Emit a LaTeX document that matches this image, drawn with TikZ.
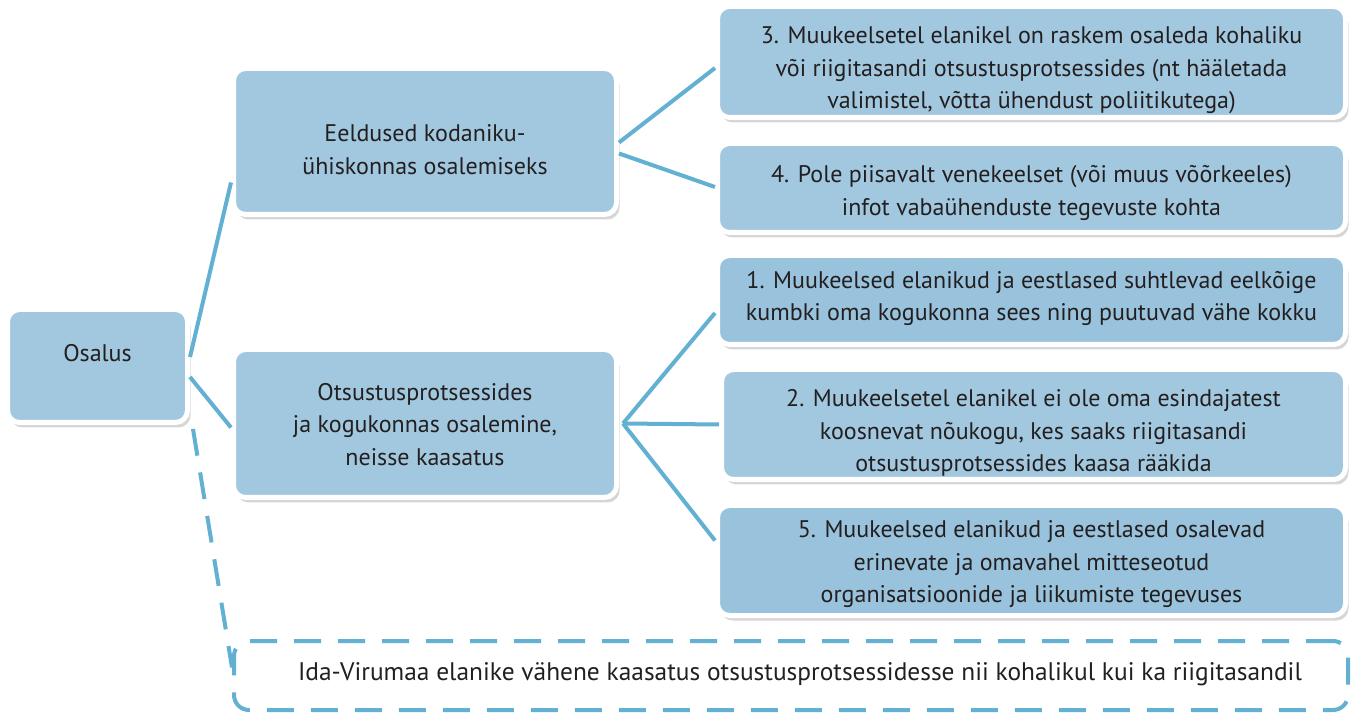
\documentclass[tikz,border=0pt]{standalone}
\usepackage{fontspec}
\setmainfont{PT Sans}
\usepackage{xcolor}
\usetikzlibrary{calc,shadows}
\definecolor{boxblue}{HTML}{A2C8DF}
\definecolor{boxdeep}{HTML}{99C3DC}
\definecolor{wire}{HTML}{62B0D2}
\definecolor{ink}{HTML}{231F20}
\newcommand\boxlines[2]{\raisebox{#1}[\height][\depth]{\begin{tabular}{@{}c@{}}#2\end{tabular}}}
\tikzset{card/.style={draw=white,line width=2.5pt,fill=boxblue,rounded corners=6pt,text=ink,inner sep=0pt,
  drop shadow={shadow xshift=1.5pt,shadow yshift=-2.5pt,opacity=0.16,fill=black}},
  link/.style={wire,line width=2pt},
  dashlink/.style={draw=wire,line width=2pt,dash pattern=on 13.5pt off 8.5pt}}

\begin{document}
\begin{tikzpicture}[x=0.5pt,y=-0.5pt,font=\fontsize{12}{16.25}\selectfont]
\useasboundingbox (0,0) rectangle (1354,715);
% boxes
\node[card,minimum width=90pt,minimum height=56.5pt] (osalus) at (97.5,366) {\boxlines{5.5pt}{Osalus}};
\node[card,minimum width=191.5pt,minimum height=73pt] (eeldused) at (425,141.5) {\boxlines{-5pt}{Eeldused kodaniku-\\ühiskonnas osalemiseks}};
\node[card,minimum width=191.5pt,minimum height=74pt] (otsustus) at (425,423.5) {\boxlines{-1.5pt}{Otsustusprotsessides\\ja kogukonnas osalemine,\\neisse kaasatus}};
\node[card,minimum width=314pt,minimum height=55.5pt] (p3) at (1031.5,62) {\boxlines{-4pt}{3. Muukeelsetel elanikel on raskem osaleda kohaliku\\või riigitasandi otsustusprotsessides (nt hääletada\\valimistel, võtta ühendust poliitikutega)}};
\node[card,minimum width=314pt,minimum height=44.5pt] (p4) at (1031.5,188) {\boxlines{-2.25pt}{4. Pole piisavalt venekeelset (või muus võõrkeeles)\\infot vabaühenduste tegevuste kohta}};
\node[card,fill=boxdeep,minimum width=314pt,minimum height=44.5pt] (p1) at (1031.5,300) {\boxlines{1pt}{1. Muukeelsed elanikud ja eestlased suhtlevad eelkõige\\kumbki oma kogukonna sees ning puutuvad vähe kokku}};
\node[card,minimum width=312pt,minimum height=55pt] (p2) at (1033.5,424.5) {\boxlines{-4.25pt}{2. Muukeelsetel elanikel ei ole oma esindajatest\\koosnevat nõukogu, kes saaks riigitasandi\\otsustusprotsessides kaasa rääkida}};
\node[card,fill=boxdeep,minimum width=314pt,minimum height=55pt] (p5) at (1031.5,560.5) {\boxlines{-1.75pt}{5. Muukeelsed elanikud ja eestlased osalevad\\erinevate ja omavahel mitteseotud\\organisatsioonide ja liikumiste tegevuses}};
\node[dashlink,rounded corners=7.5pt,text=ink,minimum width=557pt,minimum height=34.5pt,inner sep=0pt,font=\fontsize{12.7}{16}\selectfont] (ida) at (791,675.5) {\boxlines{0.5pt}{\hspace*{9pt}Ida-Virumaa elanike vähene kaasatus otsustusprotsessidesse nii kohalikul kui ka riigitasandil}};
% connectors
\draw[link] ([yshift=4.5pt]osalus.east) -- ([yshift=-20.5pt]eeldused.west);
\draw[link] ([yshift=-5.5pt]osalus.east) -- ([yshift=-2pt]otsustus.west);
\draw[dashlink] ([xshift=1.5pt,yshift=-2pt]osalus.south east) -- ([yshift=4pt]ida.west);
\draw[link] ([yshift=-0.5pt]eeldused.east) -- ([yshift=-3pt]p3.west);
\draw[link] ([yshift=-6pt]eeldused.east) -- ([yshift=0.5pt]p4.west);
\draw[link] ([xshift=2pt]otsustus.east) -- ([yshift=-6.5pt]p1.west);
\draw[link] ([xshift=2pt]otsustus.east) -- (p2.west);
\draw[link] ([xshift=2pt]otsustus.east) -- ([yshift=10pt]p5.west);
\end{tikzpicture}
\end{document}
